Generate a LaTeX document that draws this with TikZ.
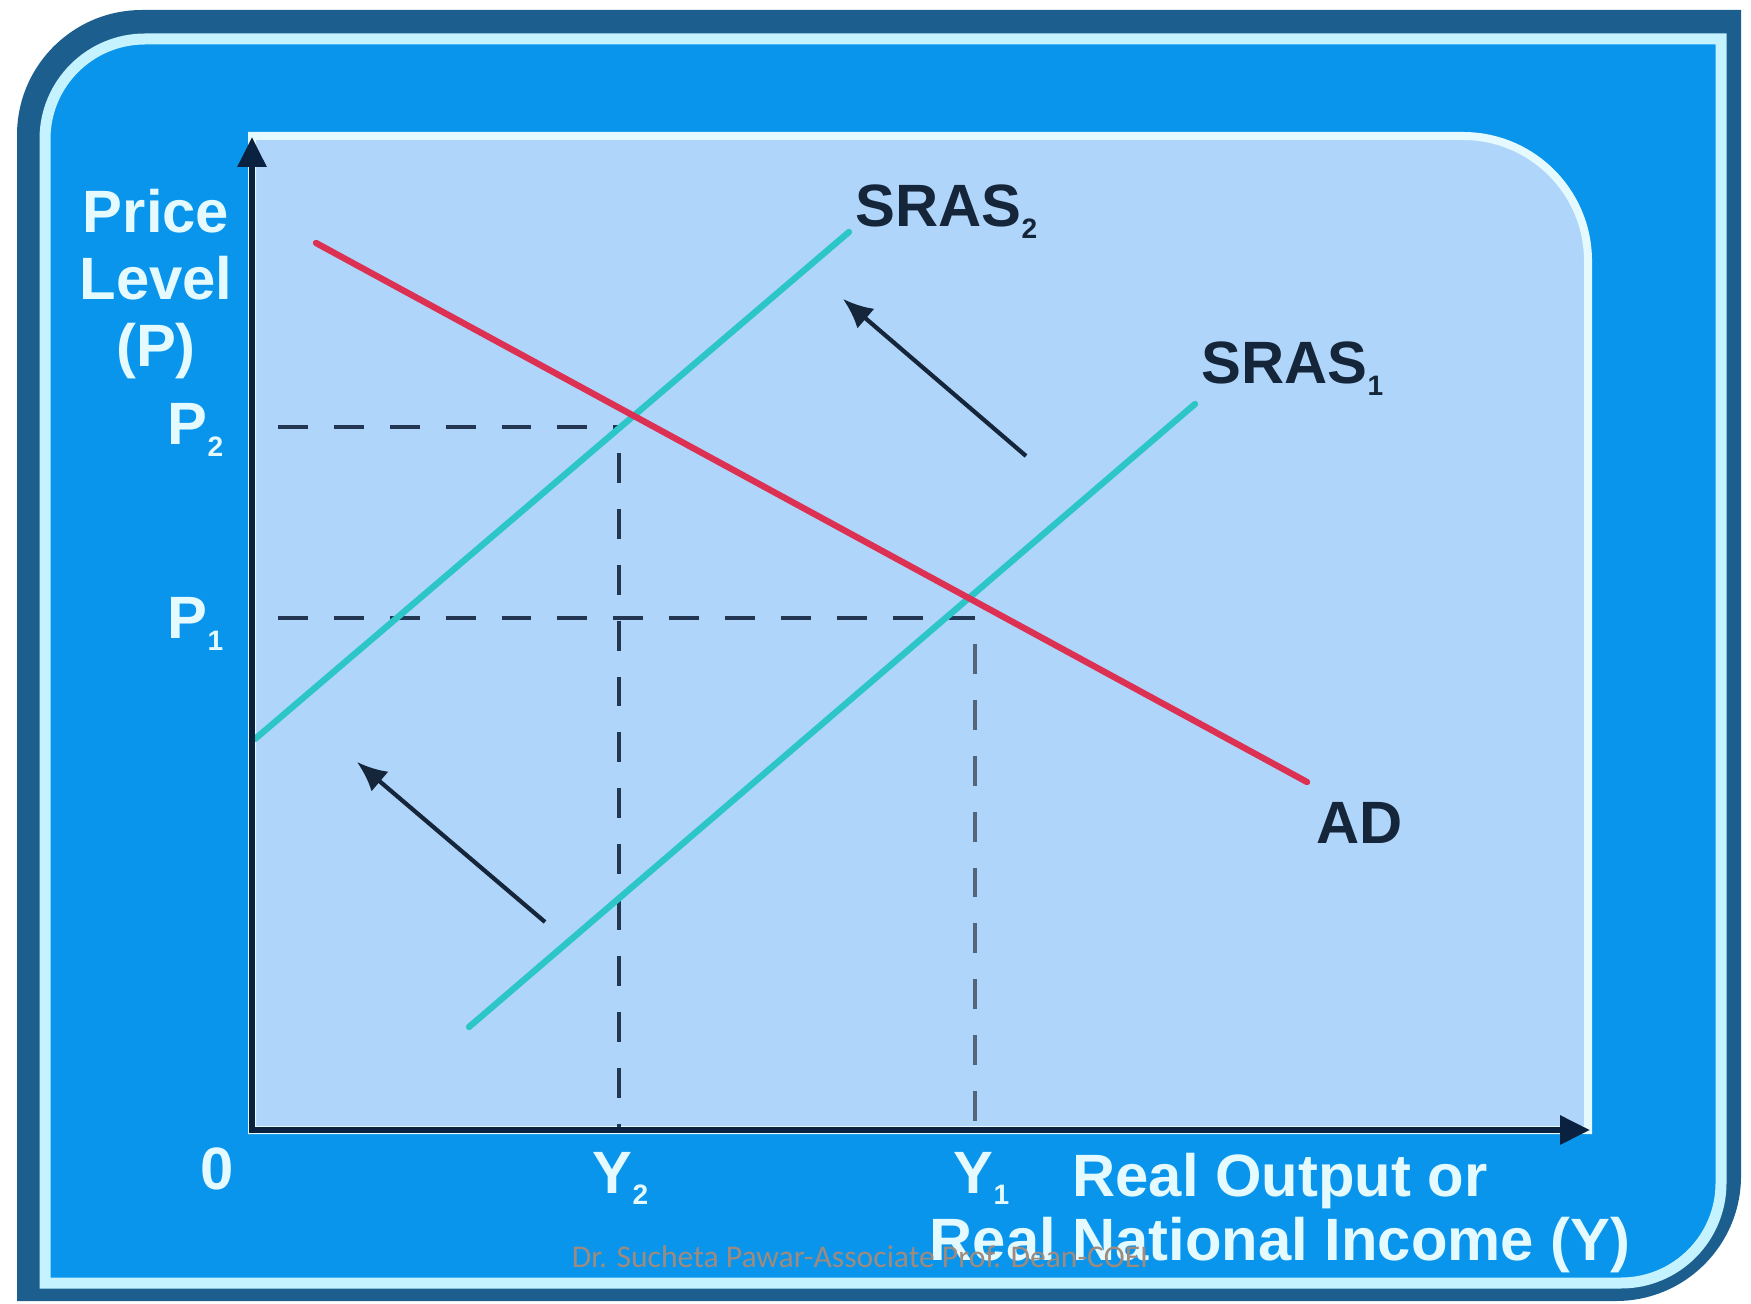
\documentclass[tikz,border=0pt]{standalone}
\usepackage{fontspec}
\setmainfont{Liberation Sans}
\newfontfamily\wmfont{Carlito}
\usetikzlibrary{arrows.meta}

\definecolor{frameout}{HTML}{1C5F8E}
\definecolor{framelin}{HTML}{C4F2FF}
\definecolor{bandblue}{HTML}{0A95EC}
\definecolor{panel}{HTML}{B0D5FA}
\definecolor{axisnavy}{HTML}{0B2140}
\definecolor{adred}{HTML}{DC3152}
\definecolor{srascyan}{HTML}{2CC6C8}
\definecolor{lblwhite}{HTML}{E4FAFF}
\definecolor{lbldark}{HTML}{15253A}
\definecolor{wmgrey}{HTML}{9E8B7E}

\newcommand{\lowidx}[1]{\raisebox{-0.35ex}{\fontsize{8}{8}\selectfont #1}}

\begin{document}
\begin{tikzpicture}[x=0.1mm,y=0.1mm,
  ax/.style={{Triangle[length=3mm,width=2.8mm]}-{Triangle[length=3mm,width=2.8mm]},line width=1.7pt,draw=axisnavy},
  ar/.style={-{Latex[length=3mm,width=2.6mm]},line width=1.2pt,draw=lbldark},
  guide/.style={line width=1.1pt,draw=axisnavy!90,dash pattern=on 8.5pt off 7.4pt,dash phase=8.5pt},
  crv/.style={line width=1.8pt,line cap=round},
  wlbl/.style={text=lblwhite,font=\fontsize{17}{19}\selectfont\bfseries,inner sep=0pt},
  dlbl/.style={text=lbldark,font=\fontsize{17}{19}\selectfont\bfseries,inner sep=0pt}]

  % frame and panel
  \useasboundingbox (0,0) rectangle (1751,1303);
  \fill[white] (0,0) rectangle (1751,1303);
  \fill[frameout] (17,2) -- (17,1168) arc[start angle=180,end angle=90,radius=12.5mm]
    -- (1741,1293) -- (1741,127) arc[start angle=0,end angle=-90,radius=12.5mm] -- cycle;
  \filldraw[fill=bandblue,draw=framelin,line width=1.1mm] (45,20) -- (45,1164)
    arc[start angle=180,end angle=90,radius=10mm] -- (1721,1264) -- (1721,120)
    arc[start angle=0,end angle=-90,radius=10mm] -- cycle;
  \filldraw[fill=panel,draw=lblwhite,line width=0.8mm] (252,173) -- (252,1167) -- (1463,1167)
    arc[start angle=90,end angle=0,radius=12.5mm] -- (1588,173) -- cycle;

  % points
  \coordinate (O) at (252,173);
  \coordinate (ytop) at (252,1166);
  \coordinate (xend) at (1590,173);
  \coordinate (E2) at (619,876); \coordinate (E1) at (975,685);
  \coordinate (p2) at (252,876); \coordinate (y2) at (619,173);
  \coordinate (p1) at (252,685); \coordinate (y1) at (975,173);
  \coordinate (ad1) at (316,1060); \coordinate (ad2) at (1307,521);
  \coordinate (s1a) at (469,276); \coordinate (s1b) at (1195,899);
  \coordinate (s2a) at (255,564); \coordinate (s2b) at (849,1071);
  \coordinate (a1s) at (1026,847); \coordinate (a1e) at (843,1004);
  \coordinate (a2s) at (545,381); \coordinate (a2e) at (357,541);

  \draw[guide] (p2) -- (E2);
  \draw[guide] (E2) -- (y2);
  \draw[guide] (p1) -- (E1);
  \draw[guide,draw=axisnavy!70,line width=1.4pt] (E1) -- (y1);

  \draw[crv,srascyan] (s2a) -- (s2b);
  \draw[crv,srascyan] (s1a) -- (s1b);
  \draw[crv,adred] (ad1) -- (ad2);

  \draw[ar] (a1s) -- (a1e);
  \draw[ar] (a2s) -- (a2e);

  \draw[ax] (ytop) -- (O) -- (xend);

  % labels
  \node[wlbl,align=center] (ylab) at (156,1019) {Price\\Level\\(P)};
  \node[wlbl,anchor=base west] (lp2) at (167,858) {P\lowidx{2}};
  \node[wlbl,anchor=base west] (lp1) at (167,664) {P\lowidx{1}};
  \node[wlbl,anchor=base] (l0) at (217,114) {0};
  \node[wlbl,anchor=base west] (ly2) at (592,110) {Y\lowidx{2}};
  \node[wlbl,anchor=base west] (ly1) at (953,110) {Y\lowidx{1}};
  \node[wlbl,align=center,font=\fontsize{17}{18}\selectfont\bfseries] (xlab) at (1280,90) {Real Output or\\Real National Income (Y)};

  \node[dlbl,anchor=base west] (ls2) at (855,1076) {SRAS\lowidx{2}};
  \node[dlbl,anchor=base west] (ls1) at (1201,919) {SRAS\lowidx{1}};
  \node[dlbl,anchor=base west] (lad) at (1316,460) {AD};

  \node[font=\wmfont\fontsize{9}{11}\selectfont,text=wmgrey,inner sep=0pt] (wm) at (860,46) {Dr. Sucheta Pawar-Associate Prof. Dean-COEI};
\end{tikzpicture}
\end{document}
